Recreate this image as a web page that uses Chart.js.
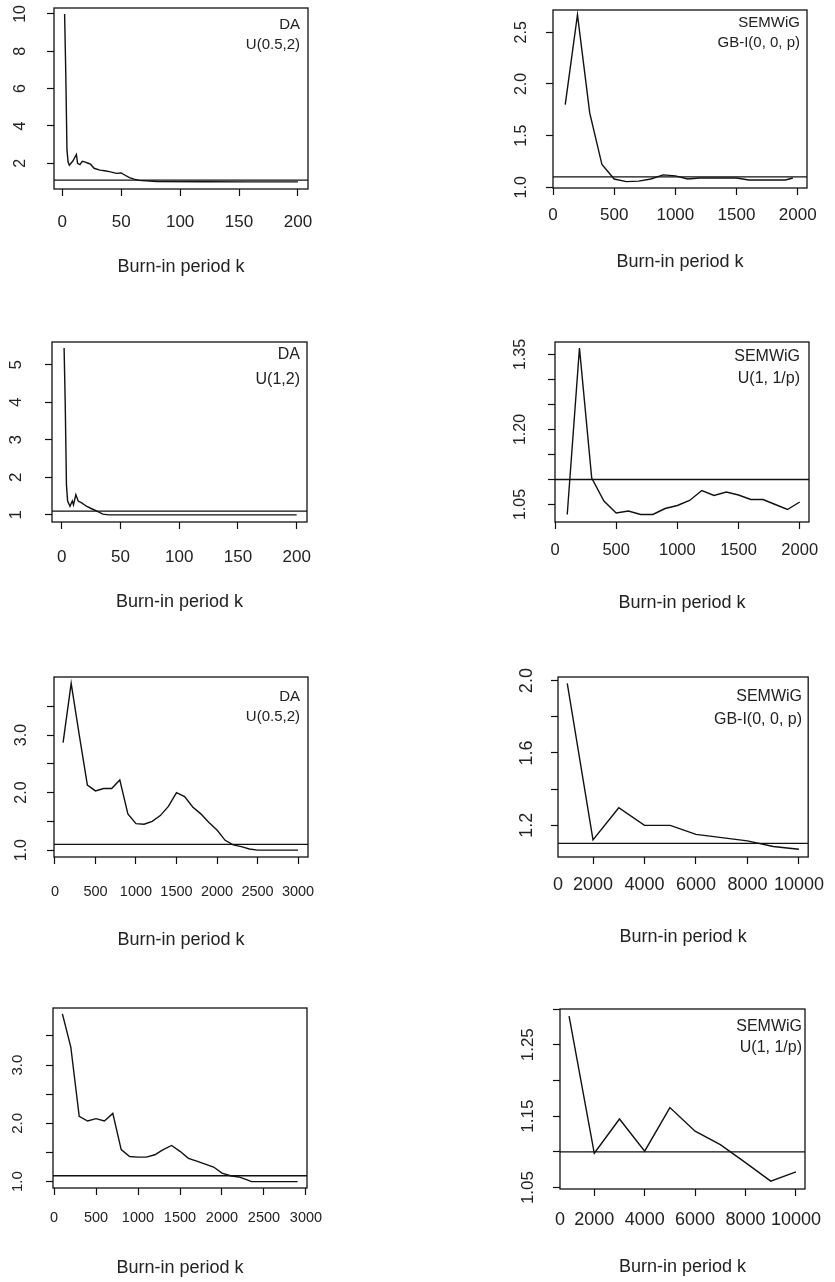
<!DOCTYPE html>
<html>
<head>
<meta charset="utf-8">
<title>Burn-in period diagnostics</title>
<script src="https://cdn.jsdelivr.net/npm/chart.js@4.4.1/dist/chart.umd.min.js"></script>
<style>
  body { margin: 0; background: #fff; }
  #wrap { position: relative; width: 835px; height: 1282px; }
  #wrap canvas { position: absolute; }
</style>
</head>
<body>
<div id="wrap"></div>
<script>
// --- values ---
// row 1 left: DA, U(0.5,2)
const daA_k = [2, 3, 4, 5, 6, 9, 12, 13, 15, 17, 19, 22, 24, 27, 32, 36, 40, 46, 50, 53, 57, 61, 65, 80, 120, 160, 200];
const daA_r = [10.0, 6.8, 2.7, 2.05, 1.9, 2.12, 2.47, 2.0, 1.93, 2.1, 2.07, 2.0, 1.95, 1.73, 1.63, 1.6, 1.55, 1.46, 1.48, 1.37, 1.23, 1.15, 1.08, 1.02, 1.01, 1.0, 1.0];
// row 1 right: SEMWiG, GB-I(0, 0, p)
const semA_k = [100, 200, 300, 400, 500, 600, 700, 800, 900, 1000, 1100, 1200, 1500, 1600, 1900, 1960];
const semA_r = [1.80, 2.67, 1.72, 1.22, 1.08, 1.055, 1.06, 1.08, 1.12, 1.11, 1.08, 1.09, 1.09, 1.07, 1.07, 1.09];
// row 2 left: DA, U(1,2)
const daB_k = [2, 3, 4, 5, 7, 9, 10, 12, 14, 17, 21, 25, 30, 35, 40, 200];
const daB_r = [5.45, 3.9, 1.8, 1.37, 1.23, 1.37, 1.27, 1.54, 1.37, 1.32, 1.23, 1.17, 1.1, 1.02, 1.0, 1.0];
// row 2 right: SEMWiG, U(1, 1/p)
const semB_k = [100, 200, 300, 400, 500, 600, 700, 800, 900, 1000, 1100, 1200, 1300, 1400, 1500, 1600, 1700, 1800, 1900, 2000];
const semB_r = [1.03, 1.363, 1.103, 1.057, 1.033, 1.037, 1.03, 1.03, 1.042, 1.048, 1.058, 1.078, 1.068, 1.075, 1.069, 1.06, 1.06, 1.05, 1.04, 1.055];
// row 3 left: DA, U(0.5,2)
const daC_k = [100, 200, 300, 400, 500, 600, 700, 800, 900, 1000, 1100, 1200, 1300, 1400, 1500, 1600, 1700, 1800, 1900, 2000, 2100, 2200, 2300, 2400, 2500, 3000];
const daC_r = [2.87, 3.90, 3.0, 2.13, 2.03, 2.07, 2.07, 2.22, 1.63, 1.46, 1.45, 1.5, 1.6, 1.76, 2.0, 1.93, 1.75, 1.63, 1.48, 1.35, 1.17, 1.09, 1.06, 1.02, 1.0, 1.0];
// row 3 right: SEMWiG, GB-I(0, 0, p)
const semC_k = [1000, 2000, 3000, 4000, 5000, 6000, 7000, 8000, 9000, 10000];
const semC_r = [1.985, 1.12, 1.297, 1.2, 1.2, 1.15, 1.132, 1.114, 1.083, 1.068];
// row 4 left: DA, no caption
const daD_k = [100, 200, 300, 400, 500, 600, 700, 800, 900, 1000, 1100, 1200, 1300, 1400, 1500, 1600, 1700, 1800, 1900, 2000, 2100, 2200, 2300, 2350, 2900];
const daD_r = [3.88, 3.31, 2.12, 2.04, 2.08, 2.04, 2.17, 1.55, 1.43, 1.42, 1.42, 1.46, 1.55, 1.62, 1.52, 1.40, 1.35, 1.30, 1.25, 1.145, 1.10, 1.08, 1.03, 1.0, 1.0];
// row 4 right: SEMWiG, U(1, 1/p)
const semD_k = [1000, 2000, 3000, 4000, 5000, 6000, 7000, 8000, 9000, 10000];
const semD_r = [1.29, 1.098, 1.146, 1.101, 1.162, 1.129, 1.11, 1.085, 1.059, 1.072];

const refLevel = 1.1;

// tick values and labels
const ticks200 = [0, 50, 100, 150, 200];
const ticks2000 = [0, 500, 1000, 1500, 2000];
const ticks3000 = [0, 500, 1000, 1500, 2000, 2500, 3000];
const ticks10000 = [640, 2000, 4000, 6000, 8000, 10000];
const labels10000 = ['0', '2000', '4000', '6000', '8000', '10000'];
const yTicksA = [2, 4, 6, 8, 10];
const yTicksB = [1.0, 1.5, 2.0, 2.5];
const yLabelsB = ['1.0', '1.5', '2.0', '2.5'];
const yTicksC = [1, 2, 3, 4, 5];
const yTicksD = [1.05, 1.10, 1.15, 1.20, 1.25, 1.30, 1.35];
const yLabelsD = ['1.05', '', '', '1.20', '', '', '1.35'];
const yTicksE = [1.0, 1.5, 2.0, 2.5, 3.0, 3.5];
const yLabelsE = ['1.0', '', '2.0', '', '3.0', ''];
const yTicksF = [1.2, 1.4, 1.6, 1.8, 2.0];
const yLabelsF = ['1.2', '', '1.6', '', '2.0'];
const yTicksH = [1.05, 1.10, 1.15, 1.20, 1.25, 1.30];
const yLabelsH = ['1.05', '', '1.15', '', '1.25', ''];

const xTitle = 'Burn-in period k';

// --- panel layout (page pixels) ---
const panels = [
  { k: daA_k, r: daA_r, cell: [0, 0, 417, 300], box: [54, 8, 308, 189], xr: [-7, 208.5], yr: [0.62, 10.32],
    xt: ticks200, yt: yTicksA, yl: yTicksA.map(String), xlY: 222, tY: 267, ylX: 21, xf: 17, yf: 16,
    notes: ['DA', 'U(0.5,2)'], nR: 300, nY: [25, 45], nf: 15 },
  { k: semA_k, r: semA_r, cell: [417, 0, 418, 300], box: [553, 10, 807, 188], xr: [0, 2076], yr: [0.993, 2.716],
    xt: ticks2000, yt: yTicksB, yl: yLabelsB, xlY: 215, tY: 262, ylX: 522, xf: 17, yf: 16,
    notes: ['SEMWiG', 'GB-I(0, 0, p)'], nR: 800, nY: [23, 43], nf: 15 },
  { k: daB_k, r: daB_r, cell: [0, 300, 417, 330], box: [52, 342, 307, 522], xr: [-8.3, 208.8], yr: [0.81, 5.61],
    xt: ticks200, yt: yTicksC, yl: yTicksC.map(String), xlY: 557, tY: 602, ylX: 16, xf: 17, yf: 17,
    notes: ['DA', 'U(1,2)'], nR: 300, nY: [355, 380], nf: 16 },
  { k: semB_k, r: semB_r, cell: [417, 300, 418, 330], box: [555, 342, 809, 522], xr: [0, 2076], yr: [1.015, 1.375],
    xt: ticks2000, yt: yTicksD, yl: yLabelsD, xlY: 550, tY: 603, ylX: 521, xf: 16.5, yf: 16,
    notes: ['SEMWiG', 'U(1, 1/p)'], nR: 800, nY: [357, 379], nf: 16 },
  { k: daC_k, r: daC_r, cell: [0, 630, 417, 345], box: [54, 677, 308, 857], xr: [-12, 3123], yr: [0.88, 4.01],
    xt: ticks3000, yt: yTicksE, yl: yLabelsE, xlY: 892, tY: 940, ylX: 22, xf: 14.5, yf: 16,
    notes: ['DA', 'U(0.5,2)'], nR: 300, nY: [697, 717], nf: 15 },
  { k: semC_k, r: semC_r, cell: [417, 630, 418, 345], box: [558, 677, 812, 857], xr: [640, 10360], yr: [1.025, 2.02],
    xt: ticks10000, xl: labels10000, hideFirst: true, yt: yTicksF, yl: yLabelsF, xlY: 885, tY: 937, ylX: 527, xf: 18, yf: 18,
    notes: ['SEMWiG', 'GB-I(0, 0, p)'], nR: 802, nY: [697, 720], nf: 16 },
  { k: daD_k, r: daD_r, cell: [0, 975, 417, 307], box: [53, 1008, 307, 1188], xr: [-12, 3012], yr: [0.89, 3.98],
    xt: ticks3000, yt: yTicksE, yl: yLabelsE, xlY: 1218, tY: 1268, ylX: 18, xf: 14.5, yf: 15,
    notes: [], nR: 0, nY: [], nf: 15 },
  { k: semD_k, r: semD_r, cell: [417, 975, 418, 307], box: [560, 1009, 812, 1189], xr: [640, 10360], yr: [1.048, 1.30],
    xt: ticks10000, xl: labels10000, hideFirst: true, yt: yTicksH, yl: yLabelsH, xlY: 1220, tY: 1267, ylX: 528, xf: 18, yf: 17,
    notes: ['SEMWiG', 'U(1, 1/p)'], nR: 802, nY: [1027, 1048], nf: 16 },
];

const FONT = '"Liberation Sans", Arial, sans-serif';
const INK = '#111';
const TXT = '#222';
const TICK = 7;
Chart.defaults.font.family = FONT;

function makePanel(p) {
  const [cx, cy, cw, ch] = p.cell;
  const [bl, bt, br, bb] = p.box;
  const canvas = document.createElement('canvas');
  canvas.width = cw;
  canvas.height = ch;
  canvas.style.left = cx + 'px';
  canvas.style.top = cy + 'px';
  canvas.style.width = cw + 'px';
  canvas.style.height = ch + 'px';
  document.getElementById('wrap').appendChild(canvas);

  // R-style box, rotated y labels and the corner caption
  const rDecor = {
    id: 'rDecor',
    afterDraw(chart) {
      const ctx = chart.ctx;
      const a = chart.chartArea;
      ctx.save();
      ctx.strokeStyle = INK;
      ctx.lineWidth = 1.3;
      ctx.strokeRect(a.left, a.top, a.right - a.left, a.bottom - a.top);

      ctx.fillStyle = TXT;
      ctx.font = p.yf + 'px ' + FONT;
      ctx.textAlign = 'center';
      ctx.textBaseline = 'middle';
      const ys = chart.scales.y;
      ys.ticks.forEach((t, i) => {
        const lab = p.yl[i];
        if (!lab) return;
        ctx.save();
        ctx.translate(p.ylX - cx, ys.getPixelForValue(t.value));
        ctx.rotate(-Math.PI / 2);
        ctx.fillText(lab, 0, 0);
        ctx.restore();
      });

      ctx.font = p.nf + 'px ' + FONT;
      ctx.textAlign = 'right';
      p.notes.forEach((n, i) => ctx.fillText(n, p.nR - cx, p.nY[i] - cy));
      ctx.restore();
    }
  };

  new Chart(canvas, {
    type: 'scatter',
    data: {
      datasets: [
        {
          data: p.k.map((k, i) => ({ x: k, y: p.r[i] })),
          showLine: true,
          borderColor: INK,
          borderWidth: 1.4,
          pointRadius: 0,
          tension: 0,
        },
        {
          data: [{ x: p.xr[0], y: refLevel }, { x: p.xr[1], y: refLevel }],
          showLine: true,
          borderColor: INK,
          borderWidth: 1.3,
          pointRadius: 0,
        },
      ],
    },
    options: {
      responsive: false,
      animation: false,
      events: [],
      layout: { padding: { top: bt - cy, right: cx + cw - br, left: 0, bottom: 0 } },
      plugins: { legend: { display: false }, tooltip: { enabled: false } },
      scales: {
        x: {
          type: 'linear',
          min: p.xr[0],
          max: p.xr[1],
          afterBuildTicks: (s) => { s.ticks = p.xt.map((v) => ({ value: v })); },
          afterFit: (s) => { s.height = cy + ch - bb; },
          ticks: {
            autoSkip: false,
            maxRotation: 0,
            minRotation: 0,
            color: TXT,
            font: { size: p.xf },
            padding: p.xlY - bb - TICK - 0.6 * p.xf,
            callback: (v, i) => (p.xl ? p.xl[i] : String(p.xt[i])),
          },
          grid: {
            drawOnChartArea: false,
            tickLength: TICK,
            tickWidth: 1.2,
            tickColor: (c) => (p.hideFirst && c.index === 0 ? 'rgba(0,0,0,0)' : INK),
          },
          border: { display: false },
          title: {
            display: true,
            text: xTitle,
            color: TXT,
            font: { size: 18 },
            padding: { top: 0, bottom: cy + ch - p.tY - 0.6 * 18 },
          },
        },
        y: {
          type: 'linear',
          min: p.yr[0],
          max: p.yr[1],
          afterBuildTicks: (s) => { s.ticks = p.yt.map((v) => ({ value: v })); },
          afterFit: (s) => { s.width = bl - cx; },
          ticks: { display: false },
          grid: { drawOnChartArea: false, tickLength: TICK, tickWidth: 1.2, tickColor: INK },
          border: { display: false },
        },
      },
    },
    plugins: [rDecor],
  });
}

panels.forEach(makePanel);
</script>
</body>
</html>
